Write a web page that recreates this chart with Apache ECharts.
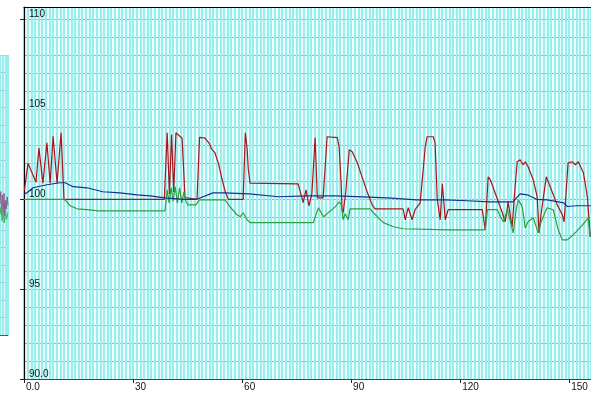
<!DOCTYPE html>
<html>
<head>
<meta charset="utf-8">
<script src="https://cdn.jsdelivr.net/npm/echarts@6/dist/echarts.min.js"></script>
<style>
  html, body { margin: 0; padding: 0; background: #fff; }
  #chart { width: 591px; height: 396px; }
</style>
</head>
<body>
<div id="chart"></div>
<script>
// tick labels
const xTicks = [0, 30, 60, 90, 120, 150];
const yTicks = [90, 95, 100, 105, 110];

// red trace [x, y]
const redPoints = [
  [0.1, 100.5], [1.1, 102.0], [3.3, 100.95], [4.1, 102.85], [5.2, 100.9], [6.3, 103.15],
  [7.2, 100.9], [8.0, 103.5], [9.1, 100.9], [10.2, 103.7], [11.0, 100.0],
  [38.6, 100.0], [39.4, 103.7], [40.0, 100.3], [40.6, 103.6], [41.2, 100.4], [41.8, 103.7],
  [43.5, 103.4], [44.3, 100.1], [44.6, 100.0], [47.6, 100.0], [48.3, 103.45], [49.8, 103.4],
  [51.0, 103.1], [51.6, 102.8], [52.5, 102.6], [53.5, 102.0], [54.5, 101.1], [55.4, 100.4],
  [56.2, 100.0], [60.3, 100.0], [60.9, 103.7], [61.4, 102.8], [61.7, 101.7], [62.2, 100.9],
  [75.4, 100.86], [76.5, 100.08], [76.8, 99.81], [77.6, 100.53], [78.4, 99.64], [79.2, 100.3],
  [80.1, 103.43], [80.7, 100.08], [82.3, 100.08], [83.4, 103.48], [86.2, 103.43], [86.7, 102.92],
  [87.3, 100.7], [87.5, 99.42], [87.8, 99.25], [88.5, 100.36], [89.5, 102.76], [90.3, 102.65],
  [91.7, 102.03], [93.0, 101.25], [94.4, 100.42], [95.8, 99.69], [96.6, 99.47], [104.3, 99.47],
  [104.9, 98.86], [105.7, 99.53], [106.8, 98.86], [107.6, 99.42], [109.0, 99.8], [110.4, 102.92],
  [110.9, 103.48], [112.6, 103.48], [113.1, 103.15], [113.7, 100.0], [114.5, 98.86], [115.1, 100.86],
  [115.9, 98.86], [116.7, 99.42], [126.1, 99.42], [126.9, 98.3], [127.7, 101.25], [128.3, 101.09],
  [130.5, 99.86], [131.6, 99.25], [132.4, 98.75], [133.2, 99.86], [134.3, 98.47], [134.9, 100.14],
  [135.7, 102.09], [136.5, 102.2], [137.3, 101.92], [137.9, 102.09], [138.7, 101.81], [140.1, 101.09],
  [141.2, 100.14], [141.7, 98.13], [142.3, 99.25], [143.7, 101.25], [145.3, 100.42], [146.7, 99.69],
  [148.1, 99.14], [148.6, 98.75], [149.7, 102.03], [150.8, 102.09], [151.7, 101.92], [152.5, 102.09],
  [153.9, 101.48], [155.0, 100.14], [155.8, 97.91]
];

// green trace
const greenPoints = [
  [0.0, 100.0], [11.0, 100.0], [11.6, 99.9], [12.7, 99.64], [14.6, 99.47], [17.3, 99.42],
  [20.4, 99.36], [38.8, 99.36], [39.4, 100.53], [39.9, 99.8], [40.5, 100.64], [41.0, 99.9],
  [41.6, 100.7], [42.2, 99.8], [42.8, 100.64], [43.4, 99.8], [44.0, 100.4], [44.6, 99.86],
  [45.1, 99.69], [47.3, 99.69], [48.2, 99.97], [55.3, 99.97], [56.7, 99.58], [58.6, 99.14],
  [59.5, 99.03], [60.3, 99.25], [61.4, 98.86], [62.2, 98.7], [79.6, 98.7], [81.0, 99.53],
  [82.4, 99.03], [85.6, 99.58], [86.7, 99.86], [87.3, 99.7], [87.8, 98.86], [88.4, 99.2],
  [89.2, 98.86], [89.7, 99.47], [95.2, 99.47], [97.2, 99.03], [98.9, 98.7], [101.6, 98.47],
  [104.3, 98.36], [116.7, 98.3], [126.9, 98.3], [127.5, 99.42], [130.2, 99.42], [131.1, 99.03],
  [131.9, 98.75], [133.0, 99.42], [134.6, 98.13], [135.4, 99.42], [136.0, 99.97], [137.1, 99.58],
  [137.9, 98.4], [138.7, 98.75], [140.1, 98.97], [141.5, 98.13], [142.3, 98.75], [143.9, 99.53],
  [145.6, 99.42], [147.0, 98.3], [148.1, 97.74], [149.5, 97.74], [151.1, 98.02], [153.0, 98.42],
  [154.4, 98.75], [155.2, 98.97], [155.8, 97.91]
];

// blue trace
const bluePoints = [
  [0.0, 100.3], [0.8, 100.36], [2.5, 100.64], [6.3, 100.81], [9.9, 100.92], [11.3, 100.92],
  [13.5, 100.7], [17.3, 100.64], [21.7, 100.42], [26.4, 100.36], [31.1, 100.25], [34.7, 100.19],
  [38.8, 100.08], [44.0, 100.0], [47.5, 100.0], [52.0, 100.36], [55.0, 100.36], [62.0, 100.3],
  [70.0, 100.14], [78.0, 100.19], [86.0, 100.19], [100.0, 100.08], [108.0, 99.97], [116.0, 99.97],
  [122.0, 99.92], [128.0, 99.86], [134.5, 99.86], [136.5, 100.3], [138.5, 100.25], [141.0, 100.0],
  [144.0, 99.97], [148.5, 99.8], [149.5, 99.6], [152.0, 99.64], [156.0, 99.64]
];

// cropped neighbour panel on the far left
const sideUpper = [[0, 7.5], [0.3, 8.2], [0.6, 6.9], [0.9, 8.0], [1.2, 7.0], [1.5, 8.1], [1.8, 6.8], [2.1, 7.7], [2.4, 7.2], [2.7, 7.9], [3, 7.4]];
const sideLower = [[0, 6.9], [0.4, 7.3], [0.8, 6.5], [1.2, 7.2], [1.6, 6.4], [2.0, 7.1], [2.4, 6.6], [3, 7.0]];

const chart = echarts.init(document.getElementById('chart'));
const labelFont = { color: '#111', fontSize: 10, fontFamily: 'Liberation Sans, Arial, sans-serif' };
const vLine = { show: true, lineStyle: { color: '#9aeded', width: 2.2 } };
const hLine = { show: true, lineStyle: { color: '#86b3c6', width: 1 } };
const off = { show: false };

chart.setOption({
  backgroundColor: '#fff',
  animation: false,
  grid: [
    { left: 24, right: 0, top: 7, bottom: 17, show: true, backgroundColor: '#f6ffff', borderWidth: 0 },
    { left: 0, width: 8, top: 55, bottom: 61, show: true, backgroundColor: '#f6ffff', borderWidth: 0 }
  ],
  xAxis: [
    {
      type: 'value', gridIndex: 0, min: 0, max: 156, position: 'bottom',
      axisLine: { show: true, onZero: false, lineStyle: { color: '#444', width: 1 } },
      axisTick: { show: true, customValues: xTicks, length: 4, lineStyle: { color: '#222' } },
      axisLabel: Object.assign({
        customValues: xTicks, align: 'left', margin: 3, padding: [0, 0, 0, 2],
        formatter: v => (v === 0 ? '0.0' : String(v))
      }, labelFont),
      splitLine: off
    },
    {
      type: 'value', gridIndex: 0, position: 'top', min: 0, max: 156,
      axisLine: { show: true, onZero: false, lineStyle: { color: '#000', width: 1.2 } },
      axisTick: off, axisLabel: off, splitLine: off
    },
    {
      type: 'value', gridIndex: 1, min: 0, max: 3, interval: 1,
      axisLine: { show: true, onZero: false, lineStyle: { color: '#555' } },
      axisTick: off, axisLabel: off, splitLine: vLine
    },
    {
      // dense vertical grid of the main panel
      type: 'value', gridIndex: 0, min: 0, max: 156, interval: 1,
      axisLine: off, axisTick: off, axisLabel: off, splitLine: vLine
    }
  ],
  yAxis: [
    {
      type: 'value', gridIndex: 0, min: 90, max: 110.7, position: 'left',
      axisLine: { show: true, onZero: false, lineStyle: { color: '#000', width: 1.2 } },
      axisTick: { show: true, customValues: yTicks, length: 4, lineStyle: { color: '#222' } },
      axisLabel: Object.assign({
        customValues: yTicks, inside: true, margin: 5, verticalAlign: 'bottom',
        formatter: v => (v === 90 ? '90.0' : String(v))
      }, labelFont),
      splitLine: off
    },
    {
      type: 'value', gridIndex: 1, min: 0, max: 16, interval: 1,
      axisLine: off, axisTick: off, axisLabel: off, splitLine: hLine
    },
    {
      // horizontal grid of the main panel, one line per unit
      type: 'value', gridIndex: 0, min: 90, max: 110.7, interval: 1,
      axisLine: off, axisTick: off, axisLabel: off, splitLine: hLine
    }
  ],
  series: [
    { type: 'line', xAxisIndex: 0, yAxisIndex: 0, data: redPoints, showSymbol: false, lineStyle: { color: '#a8141c', width: 1.2 } },
    { type: 'line', xAxisIndex: 0, yAxisIndex: 0, data: greenPoints, showSymbol: false, lineStyle: { color: '#2f9e3c', width: 1.2 } },
    { type: 'line', xAxisIndex: 0, yAxisIndex: 0, data: bluePoints, showSymbol: false, lineStyle: { color: '#1c2e8c', width: 1.2 } },
    { type: 'line', xAxisIndex: 2, yAxisIndex: 1, data: sideUpper, showSymbol: false, lineStyle: { color: '#8a5a8a', width: 1 } },
    { type: 'line', xAxisIndex: 2, yAxisIndex: 1, data: sideLower, showSymbol: false, lineStyle: { color: '#4aa860', width: 1 } }
  ]
});
</script>
</body>
</html>
